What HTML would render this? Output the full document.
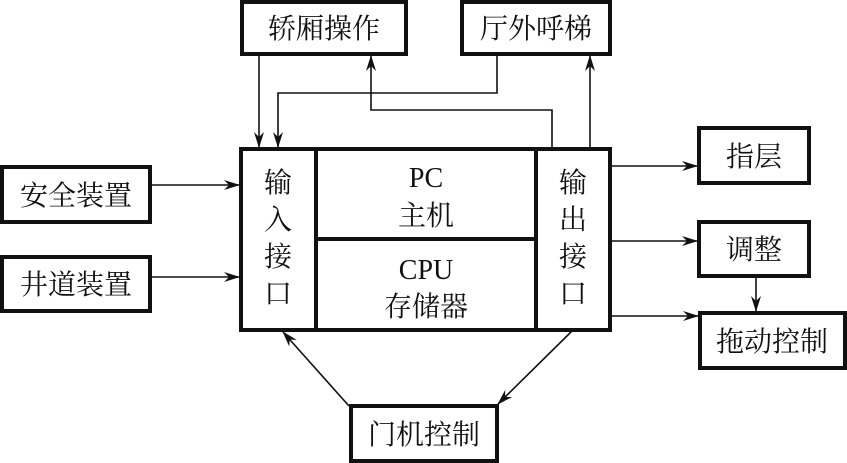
<!DOCTYPE html>
<html><head><meta charset="utf-8"><style>
html,body{margin:0;padding:0;background:#fff;}
svg{display:block;}
text{font-family:"Liberation Serif","Noto Serif CJK SC","Noto Sans CJK SC",serif;fill:#111;}
</style></head><body>
<svg width="847" height="463" viewBox="0 0 847 463" xmlns="http://www.w3.org/2000/svg">
<defs>
<marker id="a" markerWidth="16" markerHeight="10" refX="15" refY="5" orient="auto" markerUnits="userSpaceOnUse">
<path d="M0,0 L16,5 L0,10 L5,5 Z" fill="#111"/>
</marker>
</defs>
<g fill="none" stroke="#111" stroke-width="4">
<rect x="242" y="2" width="164" height="52"/>
<rect x="462" y="2" width="148" height="52"/>
<rect x="2" y="167" width="148" height="55"/>
<rect x="2" y="257" width="148" height="54"/>
<rect x="699" y="128" width="110" height="55"/>
<rect x="699" y="222" width="110" height="54"/>
<rect x="700" y="313" width="145" height="55"/>
<rect x="351" y="406" width="146" height="55"/>
<rect x="241" y="149" width="369" height="181"/>
<line x1="316" y1="149" x2="316" y2="330"/>
<line x1="536" y1="149" x2="536" y2="330"/>
<line x1="316" y1="239" x2="536" y2="239"/>
</g>
<g fill="none" stroke="#111" stroke-width="1.6" marker-end="url(#a)">
<line x1="259" y1="54" x2="259" y2="147"/>
<polyline points="497,54 497,93 278,93 278,147"/>
<polyline points="552,149 552,110 371,110 371,56"/>
<line x1="590" y1="149" x2="590" y2="56"/>
<line x1="150" y1="185" x2="239" y2="185"/>
<line x1="150" y1="277" x2="239" y2="277"/>
<line x1="610" y1="166" x2="697" y2="166"/>
<line x1="610" y1="241" x2="697" y2="241"/>
<line x1="610" y1="316" x2="698" y2="316"/>
<line x1="756" y1="276" x2="756" y2="311"/>
<line x1="349" y1="406" x2="283" y2="332"/>
<line x1="572" y1="331" x2="498" y2="404"/>
</g>
<g font-size="28" text-anchor="middle">
<text x="324" y="38">轿厢操作</text>
<text x="536" y="38">厅外呼梯</text>
<text x="76" y="205">安全装置</text>
<text x="76" y="294">井道装置</text>
<text x="754" y="166">指层</text>
<text x="754" y="259">调整</text>
<text x="772" y="351">拖动控制</text>
<text x="424" y="444">门机控制</text>
<text x="278" y="192">输</text>
<text x="278" y="229">入</text>
<text x="278" y="266">接</text>
<text x="278" y="303">口</text>
<text x="573" y="192">输</text>
<text x="573" y="229">出</text>
<text x="573" y="266">接</text>
<text x="573" y="303">口</text>
<text x="426" y="187">PC</text>
<text x="426" y="225">主机</text>
<text x="426" y="279">CPU</text>
<text x="426" y="316">存储器</text>
</g>
</svg>
</body></html>
